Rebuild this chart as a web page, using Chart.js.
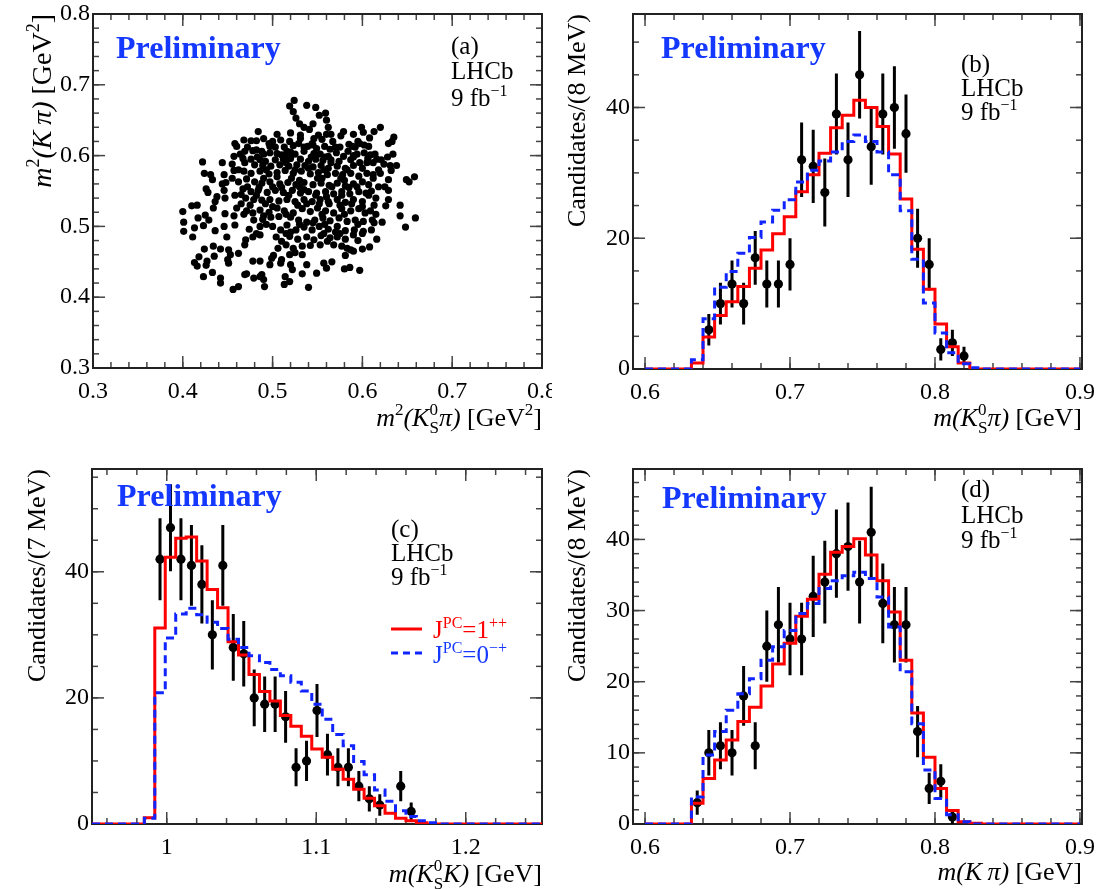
<!DOCTYPE html>
<html>
<head>
<meta charset="utf-8">
<script src="https://cdn.jsdelivr.net/npm/chart.js@4.4.1/dist/chart.umd.min.js"></script>
<style>
html,body{margin:0;padding:0;background:#ffffff;}
#wrap{position:relative;width:1114px;height:889px;overflow:hidden;background:#ffffff;}
#wrap canvas{position:absolute;}
</style>
</head>
<body>
<div id="wrap">
<canvas id="pa" width="552" height="444" style="left:0px;top:0px;"></canvas>
<canvas id="pb" width="558" height="444" style="left:556px;top:0px;"></canvas>
<canvas id="pc" width="556" height="445" style="left:0px;top:444px;"></canvas>
<canvas id="pd" width="558" height="445" style="left:556px;top:444px;"></canvas>
</div>
<script>
// ---------------- DATA ----------------
// (a) scatter: m2(KS pi) vs m2(K pi)
const scatterX = [
0.524,0.519,0.523,0.538,0.548,0.552,0.559,0.560,0.526,0.562,
0.484,0.541,0.531,0.551,0.520,0.509,0.519,0.579,0.576,0.599,0.601,0.613,0.620,0.608,0.635,0.633,0.629,0.468,0.476,0.482,0.490,0.496,0.497,0.458,0.460,0.531,0.546,0.555,0.567,0.585,0.589,0.597,0.602,0.607,0.513,0.523,0.529,0.539,0.544,0.549,0.558,0.564,
0.469,0.464,0.478,0.488,0.497,0.505,0.510,0.516,0.525,0.535,0.546,0.553,0.562,0.571,0.579,0.584,0.594,0.602,0.609,0.614,0.634,0.616,0.606,0.457,0.467,0.476,0.486,0.492,0.503,0.512,0.520,0.531,0.540,0.548,0.556,0.565,0.574,0.587,0.597,0.612,0.621,0.624,0.444,0.422,0.469,0.480,0.489,0.498,0.508,0.518,0.527,0.536,0.545,0.554,0.562,0.572,0.581,0.590,0.600,0.631,0.638,0.632,0.457,0.468,0.476,0.486,0.496,0.505,0.514,0.523,0.532,0.542,0.551,0.561,0.570,0.578,0.587,0.596,0.605,0.612,
0.424,0.431,0.446,0.448,0.433,0.426,0.428,0.444,0.446,0.462,0.471,0.480,0.488,0.497,0.508,0.517,0.526,0.535,0.545,0.554,0.563,0.572,0.581,0.590,0.600,0.607,0.629,0.649,0.652,0.658,0.467,0.476,0.484,0.494,0.503,0.512,0.522,0.531,0.540,0.549,0.559,0.568,0.577,0.586,0.596,0.604,0.629,0.438,0.436,0.447,0.470,0.479,0.488,0.497,0.507,0.516,0.525,0.535,0.544,0.553,0.562,0.572,0.581,0.590,0.600,0.629,0.615,
0.642,0.626,0.613,0.434,0.447,0.460,0.471,0.478,0.486,0.496,0.505,0.513,0.523,0.533,0.542,0.550,0.559,0.568,0.577,0.587,0.596,0.603,0.609,0.400,0.416,0.410,0.417,0.425,0.429,0.457,0.479,0.489,0.498,0.507,0.520,0.529,0.538,0.547,0.556,0.564,0.574,0.583,0.592,0.601,0.611,0.642,0.659,0.648,
0.401,0.401,0.413,0.411,0.423,0.436,0.446,0.449,0.458,0.474,0.486,0.500,0.509,0.516,0.526,0.535,0.544,0.552,0.562,0.572,0.581,0.591,0.601,0.613,0.622,0.470,0.469,0.478,0.486,0.504,0.510,0.519,0.528,0.538,0.546,0.554,0.564,0.572,0.581,0.590,0.600,0.616,0.506,0.515,0.523,0.533,0.542,0.553,0.561,0.568,0.577,0.583,0.587,0.600,0.608,0.434,0.424,0.442,0.451,0.462,0.453,
0.418,0.416,0.413,0.427,0.426,0.435,0.450,0.451,0.433,0.423,0.442,0.442,0.478,0.486,0.471,0.479,0.486,0.490,0.491,0.497,0.499,0.501,0.509,0.510,0.519,0.520,0.525,0.533,0.522,0.533,0.514,0.519,0.513,0.538,0.549,0.540,0.557,0.560,0.566,0.580,0.586,0.581,0.590,0.597,0.456,0.462,0.469,0.488,
0.490,0.515,0.540,0.565,0.590,0.505,0.530,0.555,0.580,0.605,0.485,0.510,0.535,0.560,0.585,0.610,0.475,0.500,0.528,0.552,0.575,0.600,0.545,0.520,0.570,0.595,0.535,0.560,0.482,0.500,0.545,0.570,0.520,0.595,0.610,0.490,0.465,0.455,0.620,0.625,
0.472,0.503,0.535,0.575,0.592,0.483,0.515,0.543,0.558,0.590,0.628,0.462,0.493,0.525,0.557,0.583,0.618,0.455,0.490,0.521,0.550,0.576,0.612,0.472,0.500,0.530,0.566,0.594,0.618,0.458,0.482,0.518,0.548,0.577,0.607,0.465,0.492,0.538,0.563,0.588,0.468,0.515,0.555,0.580,0.615,0.493,0.530,0.558,0.595,0.482,0.515,0.557,0.575,0.545,0.530,0.505,0.565,0.590
];
const scatterY = [
0.678,0.670,0.662,0.671,0.668,0.657,0.660,0.650,0.653,0.640,
0.634,0.637,0.624,0.629,0.632,0.622,0.620,0.634,0.628,0.640,0.633,0.634,0.640,0.625,0.626,0.620,0.617,0.622,0.621,0.621,0.624,0.617,0.613,0.617,0.613,0.629,0.624,0.623,0.620,0.616,0.613,0.617,0.615,0.613,0.612,0.614,0.617,0.613,0.617,0.610,0.613,0.609,
0.606,0.602,0.607,0.606,0.604,0.603,0.601,0.606,0.602,0.606,0.603,0.602,0.599,0.604,0.599,0.606,0.602,0.604,0.601,0.602,0.602,0.595,0.596,0.599,0.596,0.595,0.594,0.592,0.594,0.595,0.596,0.595,0.592,0.595,0.593,0.594,0.592,0.594,0.590,0.590,0.594,0.588,0.590,0.591,0.590,0.587,0.586,0.585,0.587,0.585,0.587,0.586,0.584,0.586,0.582,0.585,0.582,0.586,0.582,0.586,0.586,0.579,0.579,0.578,0.575,0.578,0.574,0.576,0.579,0.575,0.578,0.574,0.576,0.573,0.575,0.573,0.575,0.571,0.575,0.573,
0.575,0.573,0.573,0.562,0.566,0.553,0.548,0.560,0.551,0.563,0.567,0.563,0.561,0.563,0.560,0.562,0.559,0.562,0.559,0.561,0.558,0.561,0.557,0.560,0.563,0.559,0.566,0.566,0.563,0.570,0.553,0.549,0.551,0.548,0.551,0.548,0.551,0.547,0.549,0.547,0.549,0.546,0.549,0.546,0.549,0.547,0.551,0.542,0.535,0.540,0.540,0.538,0.537,0.538,0.536,0.538,0.535,0.538,0.535,0.538,0.535,0.538,0.534,0.538,0.535,0.538,0.540,
0.530,0.529,0.530,0.526,0.518,0.526,0.522,0.519,0.523,0.520,0.526,0.522,0.519,0.525,0.521,0.526,0.522,0.519,0.525,0.522,0.525,0.519,0.522,0.521,0.530,0.529,0.512,0.516,0.509,0.515,0.509,0.510,0.513,0.514,0.513,0.509,0.506,0.509,0.512,0.508,0.512,0.507,0.509,0.507,0.509,0.515,0.512,0.499,
0.506,0.493,0.498,0.485,0.501,0.494,0.500,0.485,0.502,0.496,0.500,0.500,0.495,0.502,0.495,0.499,0.495,0.500,0.496,0.500,0.494,0.495,0.493,0.505,0.506,0.481,0.474,0.485,0.488,0.485,0.479,0.486,0.482,0.485,0.481,0.487,0.484,0.485,0.482,0.488,0.490,0.482,0.469,0.474,0.469,0.472,0.473,0.474,0.479,0.474,0.472,0.469,0.467,0.468,0.471,0.472,0.468,0.468,0.467,0.462,0.460,
0.457,0.444,0.449,0.451,0.445,0.458,0.453,0.448,0.435,0.429,0.427,0.420,0.451,0.451,0.433,0.427,0.429,0.425,0.415,0.446,0.455,0.459,0.448,0.453,0.460,0.446,0.463,0.460,0.439,0.433,0.429,0.422,0.418,0.446,0.434,0.414,0.448,0.441,0.450,0.440,0.442,0.459,0.465,0.438,0.411,0.415,0.432,0.432,
0.602,0.590,0.582,0.590,0.600,0.570,0.565,0.568,0.565,0.590,0.555,0.555,0.552,0.542,0.555,0.550,0.530,0.528,0.530,0.532,0.530,0.528,0.615,0.605,0.612,0.620,0.640,0.630,0.608,0.620,0.505,0.492,0.492,0.480,0.495,0.515,0.545,0.588,0.575,0.556,
0.612,0.612,0.612,0.612,0.612,0.598,0.598,0.598,0.598,0.598,0.598,0.580,0.580,0.580,0.580,0.580,0.580,0.568,0.568,0.568,0.568,0.568,0.568,0.556,0.556,0.556,0.556,0.556,0.556,0.544,0.544,0.544,0.544,0.544,0.544,0.532,0.532,0.532,0.532,0.532,0.517,0.517,0.517,0.517,0.517,0.503,0.503,0.503,0.503,0.490,0.490,0.490,0.490,0.645,0.645,0.630,0.630,0.630
];

// (b) m(KS pi), 8 MeV bins
const bCenters = [0.644,0.652,0.660,0.668,0.676,0.684,0.692,0.700,0.708,0.716,0.724,0.732,0.740,0.748,0.756,0.764,0.772,0.780,0.788,0.796,0.804,0.812,0.820];
const bCounts  = [6,10,13,10,17,13,13,16,32,31,27,39,32,45,34,39,40,36,20,16,3,4,2];
const bErrors  = [2.4,3.2,3.6,3.2,4.1,3.6,3.6,4.0,5.7,5.6,5.2,6.2,5.7,6.7,5.8,6.2,6.3,6.0,4.5,4.0,1.7,2.0,1.4];
const bModelStart = 0.632, bBinWidth = 0.008;
const bModel1pp = [0.9,4.9,8.2,10.3,12.6,15.4,18.2,20.7,23.3,27.1,29.7,33.0,36.9,38.8,41.1,40.0,37.1,32.9,26.0,18.3,12.2,6.9,3.4,0.9];
const bModel0mp = [1.4,7.7,12.5,14.9,17.7,20.1,22.5,24.3,25.9,28.6,30.4,31.8,33.2,34.8,35.8,34.8,33.2,29.7,24.2,16.8,10.1,5.5,2.5,0.8,0.2];

// (c) m(KS K), 7 MeV bins
const cCenters = [0.9955,1.0025,1.0095,1.0165,1.0235,1.0305,1.0375,1.0445,1.0515,1.0585,1.0655,1.0725,1.0795,1.0865,1.0935,1.1005,1.1075,1.1145,1.1215,1.1285,1.1355,1.1425,1.1565,1.1635];
const cCounts  = [42,47,42,41,38,30,41,28,27,20,19,19,17,9,10,18,11,9,9,6,4,3,6,2];
const cErrors  = [6.5,6.9,6.5,6.4,6.2,5.5,6.4,5.3,5.2,4.5,4.4,4.4,4.1,3.0,3.2,4.2,3.3,3.0,3.0,2.4,2.0,1.7,2.4,1.4];
const cModelStart = 0.985, cBinWidth = 0.007;
const cModel1pp = [1.0,31.1,42.3,45.3,45.5,41.7,37.2,34.3,28.9,26.8,23.7,21.0,19.5,17.2,15.5,13.9,11.9,10.6,8.7,7.1,5.5,4.1,2.9,1.7,0.9,0.5,0.2];
const cModel0mp = [0.9,20.8,29.5,33.3,34.2,33.2,32.0,31.0,29.3,28.0,26.7,25.6,24.5,23.5,22.5,21.1,19.0,16.6,14.2,12.4,9.9,7.8,5.4,3.6,2.1,1.2,0.5,0.2];

// (d) m(K pi), 8 MeV bins
const dCenters = [0.636,0.644,0.652,0.660,0.668,0.676,0.684,0.692,0.700,0.708,0.716,0.724,0.732,0.740,0.748,0.756,0.764,0.772,0.780,0.788,0.796,0.804,0.812];
const dCounts  = [3,10,11,10,18,11,25,28,26,26,32,34,38,39,34,41,31,28,28,13,5,6,1];
const dErrors  = [1.7,3.2,3.3,3.2,4.2,3.3,5.0,5.3,5.1,5.1,5.7,5.8,6.2,6.2,5.8,6.4,5.6,5.3,5.3,3.6,2.2,2.4,1.0];
const dModelStart = 0.632, dBinWidth = 0.008;
const dModel1pp = [2.9,6.4,9.0,11.8,14.4,16.4,19.4,22.5,25.4,29.2,31.6,35.1,38.2,39.0,40.1,37.8,34.2,29.8,23.0,15.6,9.4,5.0,1.9,0.3,0.1];
const dModel0mp = [3.8,9.7,13.0,16.0,18.3,20.4,23.0,24.9,27.2,29.6,31.0,33.1,34.2,34.9,35.4,34.5,31.9,27.7,21.4,14.1,7.6,3.6,1.3,0.3];

// tick labels
const aXTicks = [0.3,0.4,0.5,0.6,0.7,0.8], aXTickLabels = ['0.3','0.4','0.5','0.6','0.7','0.8'];
const aYTicks = [0.3,0.4,0.5,0.6,0.7,0.8], aYTickLabels = ['0.3','0.4','0.5','0.6','0.7','0.8'];
const bXTicks = [0.6,0.7,0.8,0.9], bXTickLabels = ['0.6','0.7','0.8','0.9'];
const bYTicks = [0,20,40], bYTickLabels = ['0','20','40'];
const cXTicks = [1.0,1.1,1.2], cXTickLabels = ['1','1.1','1.2'];
const cYTicks = [0,20,40], cYTickLabels = ['0','20','40'];
const dXTicks = [0.6,0.7,0.8,0.9], dXTickLabels = ['0.6','0.7','0.8','0.9'];
const dYTicks = [0,10,20,30,40], dYTickLabels = ['0','10','20','30','40'];

// ---------------- STYLE / LAYOUT ----------------
const FONT = '"Liberation Serif", "Times New Roman", Times, serif';
const BLUE_TXT = '#1438ff';
const RED = '#ff0000';
const BLUE = '#1024ff';
Chart.defaults.font.family = FONT;

function rangeVals(a, b, step){ const r=[]; for(let v=a; v<=b+1e-9; v+=step) r.push(+v.toFixed(6)); return r; }

function stepData(xmin, xmax, start, w, vals){
  const pts=[{x:xmin,y:0}];
  vals.forEach((v,i)=>pts.push({x:start+i*w, y:v}));
  pts.push({x:start+vals.length*w, y:0});
  pts.push({x:xmax, y:0});
  return pts;
}
function errSegs(cs, vs, es){
  const d=[];
  cs.forEach((c,i)=>{ d.push({x:c,y:vs[i]-es[i]}); d.push({x:c,y:vs[i]+es[i]}); d.push({x:c,y:null}); });
  return d;
}
function pts(cs, vs){ return cs.map((c,i)=>({x:c,y:vs[i]})); }

// rich text helpers
function fnt(p, def){ return (p.it?'italic ':'') + (p.b?'bold ':'') + (p.s||def) + 'px ' + FONT; }
function partW(ctx, p, def){
  if (p.stack){ let m=0; for (const q of p.stack){ ctx.font=fnt(q,def); m=Math.max(m, ctx.measureText(q.t).width);} return m; }
  ctx.font=fnt(p,def); return ctx.measureText(p.t).width;
}
function drawRich(ctx, parts, x, y, align, def){
  let w=0; for (const p of parts) w+=partW(ctx,p,def);
  let cx = align==='right' ? x-w : (align==='center' ? x-w/2 : x);
  ctx.textBaseline='alphabetic'; ctx.textAlign='left';
  for (const p of parts){
    if (p.stack){
      for (const q of p.stack){ ctx.font=fnt(q,def); ctx.fillText(q.t, cx, y+(q.dy||0)); }
    } else { ctx.font=fnt(p,def); ctx.fillText(p.t, cx, y+(p.dy||0)); }
    cx += partW(ctx,p,def);
  }
}

const KS = {stack:[{t:'0', s:17, dy:-11},{t:'S', s:17, dy:7}]};
const FB = [{t:'9 fb'},{t:'\u22121', s:16, dy:-10}];
const titleA_x = [{t:'m',it:1},{t:'2',s:17,dy:-11},{t:'(K',it:1},KS,{t:'\u03c0)',it:1},{t:' [GeV'},{t:'2',s:17,dy:-11},{t:']'}];
const titleA_y = [{t:'m',it:1},{t:'2',s:18,dy:-12},{t:'(K\u2009\u03c0)',it:1},{t:' [GeV'},{t:'2',s:18,dy:-12},{t:']'}];
const titleB_x = [{t:'m(K',it:1},KS,{t:'\u03c0)',it:1},{t:' [GeV]'}];
const titleC_x = [{t:'m(K',it:1},KS,{t:'K)',it:1},{t:' [GeV]'}];
const titleD_x = [{t:'m(K\u2009\u03c0)',it:1},{t:' [GeV]'}];

const PANELS = {
  pa:{ox:0,oy:0,w:552,h:444,L:93,T:14,R:542,B:368,
      xMaj:aXTicks, xMin:rangeVals(0.3,0.8,0.02), yMaj:aYTicks, yMin:rangeVals(0.3,0.8,0.02),
      texts:[
        {parts:[{t:'Preliminary',b:1}], s:32, x:116, y:58, color:BLUE_TXT},
        {parts:[{t:'(a)'}], s:25, x:451, y:54},
        {parts:[{t:'LHCb'}], s:25, x:451, y:79},
        {parts:FB, s:25, x:451, y:106},
        {parts:titleA_x, s:26, x:542, y:426, align:'right'},
        {parts:titleA_y, s:28, x:51, y:14, align:'right', rot:1}
      ]},
  pb:{ox:556,oy:0,w:558,h:444,L:633,T:14,R:1082,B:369,
      xMaj:bXTicks, xMin:rangeVals(0.6,0.9,0.02), yMaj:bYTicks, yMin:rangeVals(0,50,5),
      texts:[
        {parts:[{t:'Preliminary',b:1}], s:32, x:661, y:58, color:BLUE_TXT},
        {parts:[{t:'(b)'}], s:25, x:961, y:72},
        {parts:[{t:'LHCb'}], s:25, x:961, y:96},
        {parts:FB, s:25, x:961, y:120},
        {parts:titleB_x, s:26, x:1082, y:426, align:'right'},
        {parts:[{t:'Candidates/(8 MeV)'}], s:26, x:585, y:14, align:'right', rot:1}
      ]},
  pc:{ox:0,oy:444,w:556,h:445,L:92,T:469,R:542,B:824,
      xMaj:cXTicks, xMin:rangeVals(0.96,1.24,0.02), yMaj:cYTicks, yMin:rangeVals(0,55,5),
      texts:[
        {parts:[{t:'Preliminary',b:1}], s:32, x:117, y:506, color:BLUE_TXT},
        {parts:[{t:'(c)'}], s:25, x:391, y:537},
        {parts:[{t:'LHCb'}], s:25, x:391, y:561},
        {parts:FB, s:25, x:391, y:585},
        {parts:[{t:'J'},{t:'PC',s:16,dy:-10},{t:'=1'},{t:'++',s:16,dy:-10}], s:25, x:433, y:638, color:RED},
        {parts:[{t:'J'},{t:'PC',s:16,dy:-10},{t:'=0'},{t:'\u2212+',s:16,dy:-10}], s:25, x:433, y:663, color:BLUE_TXT},
        {parts:titleC_x, s:26, x:542, y:882, align:'right'},
        {parts:[{t:'Candidates/(7 MeV)'}], s:26, x:45, y:469, align:'right', rot:1}
      ],
      legend:[{x1:391,x2:422,y:629,color:RED,dash:[]},{x1:391,x2:422,y:653,color:BLUE,dash:[7,5]}]},
  pd:{ox:556,oy:444,w:558,h:445,L:633,T:469,R:1082,B:824,
      xMaj:dXTicks, xMin:rangeVals(0.6,0.9,0.02), yMaj:dYTicks, yMin:rangeVals(0,48,2),
      texts:[
        {parts:[{t:'Preliminary',b:1}], s:32, x:662, y:508, color:BLUE_TXT},
        {parts:[{t:'(d)'}], s:25, x:961, y:497},
        {parts:[{t:'LHCb'}], s:25, x:961, y:523},
        {parts:FB, s:25, x:961, y:548},
        {parts:titleD_x, s:26, x:1082, y:880, align:'right'},
        {parts:[{t:'Candidates/(8 MeV)'}], s:26, x:585, y:469, align:'right', rot:1}
      ]}
};

const decoPlugin = {
  id:'deco',
  beforeDatasetsDraw(chart){
    const P = PANELS[chart.canvas.id]; const ctx = chart.ctx; const A = chart.chartArea;
    const xs = chart.scales.x, ys = chart.scales.y;
    ctx.save();
    ctx.strokeStyle='#444'; ctx.lineWidth=1.5;
    const line=(x1,y1,x2,y2)=>{ctx.beginPath();ctx.moveTo(x1,y1);ctx.lineTo(x2,y2);ctx.stroke();};
    const doX=(vals,len)=>{ for(const v of vals){ const px=xs.getPixelForValue(v); if(px<A.left-0.5||px>A.right+0.5) continue; line(px,A.bottom,px,A.bottom-len); line(px,A.top,px,A.top+len);} };
    const doY=(vals,len)=>{ for(const v of vals){ const py=ys.getPixelForValue(v); if(py<A.top-0.5||py>A.bottom+0.5) continue; line(A.left,py,A.left+len,py); line(A.right,py,A.right-len,py);} };
    doX(P.xMin,6); doX(P.xMaj,12); doY(P.yMin,6); doY(P.yMaj,12);
    ctx.strokeStyle='#222'; ctx.lineWidth=2;
    ctx.strokeRect(A.left, A.top, A.right-A.left, A.bottom-A.top);
    ctx.restore();
  },
  afterDraw(chart){
    const P = PANELS[chart.canvas.id]; const ctx = chart.ctx;
    ctx.save();
    if (P.legend){
      for (const l of P.legend){
        ctx.strokeStyle=l.color; ctx.lineWidth=3; ctx.setLineDash(l.dash);
        ctx.beginPath(); ctx.moveTo(l.x1-P.ox, l.y-P.oy); ctx.lineTo(l.x2-P.ox, l.y-P.oy); ctx.stroke();
      }
      ctx.setLineDash([]);
    }
    for (const t of P.texts){
      ctx.fillStyle = t.color || '#000';
      if (t.rot){
        ctx.save(); ctx.translate(t.x-P.ox, t.y-P.oy); ctx.rotate(-Math.PI/2);
        drawRich(ctx, t.parts, 0, 0, t.align||'left', t.s); ctx.restore();
      } else {
        drawRich(ctx, t.parts, t.x-P.ox, t.y-P.oy, t.align||'left', t.s);
      }
    }
    ctx.restore();
  }
};

function makeChart(id, xr, yr, xt, xl, yt, yl, datasets){
  const P = PANELS[id];
  const L = P.L-P.ox, T = P.T-P.oy, R = P.R-P.ox, B = P.B-P.oy;
  return new Chart(document.getElementById(id), {
    type:'scatter',
    data:{datasets},
    options:{
      responsive:false, animation:false, events:[],
      layout:{autoPadding:false, padding:{left:0, top:T, right:P.w-R, bottom:0}},
      plugins:{legend:{display:false}, tooltip:{enabled:false}},
      scales:{
        x:{type:'linear', position:'bottom', min:xr[0], max:xr[1],
           grid:{display:false, drawTicks:false}, border:{display:false},
           ticks:{font:{family:FONT,size:24}, color:'#000', padding:9, autoSkip:false, maxRotation:0, minRotation:0,
                  callback:(v,i)=>xl[i]},
           afterBuildTicks:(s)=>{ s.ticks = xt.map(v=>({value:v})); },
           afterFit:(s)=>{ s.height = P.h-B; s.paddingLeft=0; s.paddingRight=0; }},
        y:{type:'linear', position:'left', min:yr[0], max:yr[1],
           grid:{display:false, drawTicks:false}, border:{display:false},
           ticks:{font:{family:FONT,size:24}, color:'#000', padding:3, autoSkip:false,
                  callback:(v,i)=>yl[i]},
           afterBuildTicks:(s)=>{ s.ticks = yt.map(v=>({value:v})); },
           afterFit:(s)=>{ s.width = L; s.paddingTop=0; s.paddingBottom=0; }}
      }
    },
    plugins:[decoPlugin]
  });
}

function histSets(cs, vs, es, start, w, m1, m0, xr){
  return [
    {type:'line', data:stepData(xr[0],xr[1],start,w,m0), stepped:true, borderColor:BLUE, borderWidth:3, borderDash:[8,5], pointRadius:0, fill:false, order:1},
    {type:'line', data:stepData(xr[0],xr[1],start,w,m1), stepped:true, borderColor:RED, borderWidth:3, pointRadius:0, fill:false, order:2},
    {type:'scatter', data:pts(cs,vs), pointRadius:4.6, pointBackgroundColor:'#000', pointBorderWidth:0, order:3},
    {type:'line', data:errSegs(cs,vs,es), borderColor:'#000', borderWidth:3, pointRadius:0, fill:false, spanGaps:false, order:4}
  ];
}

// (a)
makeChart('pa', [0.3,0.8], [0.3,0.8], aXTicks, aXTickLabels, aYTicks, aYTickLabels, [
  {type:'scatter', data:scatterX.map((x,i)=>({x:x, y:scatterY[i]})), pointRadius:3.6, pointBackgroundColor:'#000', pointBorderWidth:0}
]);
// (b)
makeChart('pb', [0.5917,0.9014], [0,54.3], bXTicks, bXTickLabels, bYTicks, bYTickLabels,
  histSets(bCenters,bCounts,bErrors,bModelStart,bBinWidth,bModel1pp,bModel0mp,[0.6,0.9]));
// (c)
makeChart('pc', [0.95,1.251], [0,56.3], cXTicks, cXTickLabels, cYTicks, cYTickLabels,
  histSets(cCenters,cCounts,cErrors,cModelStart,cBinWidth,cModel1pp,cModel0mp,[0.95,1.251]));
// (d)
makeChart('pd', [0.5917,0.9014], [0,49.9], dXTicks, dXTickLabels, dYTicks, dYTickLabels,
  histSets(dCenters,dCounts,dErrors,dModelStart,dBinWidth,dModel1pp,dModel0mp,[0.6,0.9]));
</script>
</body>
</html>
